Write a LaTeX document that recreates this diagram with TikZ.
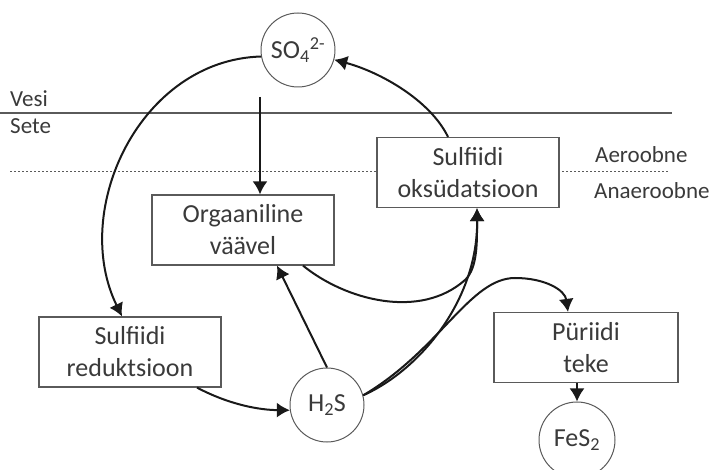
\documentclass[tikz,border=0pt]{standalone}
\usepackage{fontspec}
\setmainfont{Carlito}
\usetikzlibrary{arrows.meta,calc}
\definecolor{textColor}{RGB}{58,58,58}
\definecolor{frameColor}{RGB}{90,90,90}
\definecolor{arrowColor}{RGB}{25,25,25}
\tikzstyle{cyclePlane} = [x = 1pt, y = -1pt]
\tikzstyle{boxStyle} = [draw=frameColor, fill=white, line width=1.2pt, minimum width=182pt, minimum height=70pt, align=center, text=textColor, font=\fontsize{26}{32}\selectfont, inner sep=0pt]
\tikzstyle{circleStyle} = [circle, draw=frameColor, fill=white, line width=1pt, minimum size=74pt, inner sep=0pt, text=textColor, font=\fontsize{26}{32}\selectfont]
\tikzstyle{arrowStyle} = [draw=arrowColor, line width=2pt, -{Latex[length=13pt, width=15pt]}]
\tikzstyle{sideText} = [anchor=base west, inner sep=0pt, text=textColor, font=\fontsize{23}{28}\selectfont]
\tikzstyle{waterLine} = [draw=frameColor, line width=1.5pt]
\tikzstyle{oxygenLine} = [draw=frameColor, line width=1pt, dash pattern=on 1.5pt off 2.5pt]

\begin{document}
\begin{tikzpicture}[cyclePlane]
  \useasboundingbox (0,0) rectangle (710,470);
  % layers
  \draw [waterLine] (0,113) -- (672,113);
  \draw [oxygenLine] (10,172) -- (670,172);
  \node [sideText] (vesiText) at (10,107) {Vesi};
  \node [sideText] (seteText) at (10,134) {Sete};
  \node [sideText] (aeroText) at (595,163) {Aeroobne};
  \node [sideText] (anaeroText) at (594,199) {Anaeroobne};

  % species and processes
  \node [circleStyle] (so4) at (298,50) {SO\textsubscript{4}\textsuperscript{2-}};
  \node [boxStyle] (orgVaavel) at (243,230) {Orgaaniline\\väävel};
  \node [boxStyle] (sulfRed) at (130,352) {Sulfiidi\\reduktsioon};
  \node [circleStyle] (h2s) at (327,405) {H\textsubscript{2}S};
  \node [boxStyle] (sulfOks) at (468,172.5) {Sulfiidi\\oksüdatsioon};
  \node [boxStyle, minimum width=184pt] (pyriit) at (586,347.5) {Püriidi\\teke};
  \node [circleStyle, minimum size=76pt] (fes2) at (577,440) {FeS\textsubscript{2}};
  \coordinate (so4Drop) at (260,97);

  % arrows
  \draw [arrowStyle] (so4Drop) -- (so4Drop |- orgVaavel.north);
  \draw [arrowStyle] (so4.190) .. controls (140,60) and (70,210) .. ($(sulfRed.north)+(-8,0)$);
  \draw [arrowStyle] ($(sulfRed.south)+(67,0)$) .. controls (230,405) and (260,410) .. (h2s.188);
  \draw [arrowStyle] (h2s.north) -- ($(orgVaavel.south)+(34,0)$);
  \draw [arrowStyle] ($(orgVaavel.south)+(60,0)$) .. controls (345,300) and (420,320) .. (465,280)
    .. controls (478,268) and (477,240) .. ($(sulfOks.south)+(9,0)$);
  \draw [arrowStyle] (h2s.15) .. controls (420,370) and (478,300) .. ($(sulfOks.south)+(9,0)$);
  \draw [arrowStyle] (h2s.15) .. controls (440,350) and (470,278) .. (515,278)
    .. controls (545,278) and (565,290) .. ($(pyriit.north)+(-18,0)$);
  \draw [arrowStyle] (pyriit.south -| fes2.north) -- (fes2.north);
  \draw [arrowStyle] ($(sulfOks.north)+(-20,0)$) .. controls (430,100) and (380,72) .. (so4.-15);
\end{tikzpicture}
\end{document}
